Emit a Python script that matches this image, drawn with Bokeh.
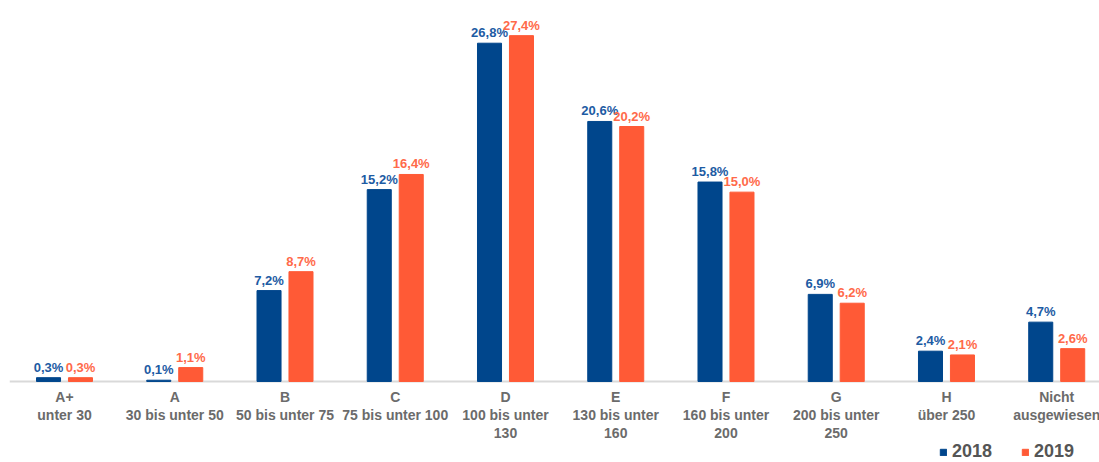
from bokeh.plotting import figure
from bokeh.models import ColumnDataSource, Range1d, Legend, LegendItem, Span
from bokeh.core.properties import value
from bokeh.embed import file_html
from bokeh.resources import INLINE

categories = ["A+\nunter 30", "A\n30 bis unter 50", "B\n50 bis unter 75", "C\n75 bis unter 100",
              "D\n100 bis unter\n130", "E\n130 bis unter\n160", "F\n160 bis unter\n200",
              "G\n200 bis unter\n250", "H\nüber 250", "Nicht\nausgewiesen"]
values_2018 = [0.3, 0.1, 7.2, 15.2, 26.8, 20.6, 15.8, 6.9, 2.4, 4.7]
values_2019 = [0.3, 1.1, 8.7, 16.4, 27.4, 20.2, 15.0, 6.2, 2.1, 2.6]
series = ["2018", "2019"]

BLUE = "#00468c"
ORANGE = "#ff5a36"
BLUE_TXT = "#1d5ba3"
ORANGE_TXT = "#ff6a4a"

idx = list(range(len(categories)))
off = 0.145
w = 0.218

def fmt(v):
    return f"{v:.1f}".replace(".", ",") + "%"

src18 = ColumnDataSource(dict(x=[i - off for i in idx], top=values_2018,
                              lab=[fmt(v) for v in values_2018]))
src19 = ColumnDataSource(dict(x=[i + off for i in idx], top=values_2019,
                              lab=[fmt(v) for v in values_2019]))
srccat = ColumnDataSource(dict(x=idx, y=[0] * len(idx), lab=categories))

p = figure(frame_width=1090, frame_height=454, output_backend="svg", toolbar_location=None,
           x_range=Range1d(-0.499, 9.388), y_range=Range1d(-6.42, 29.55),
           min_border_left=9, min_border_right=0, min_border_top=8, min_border_bottom=0)

r18 = p.vbar(x="x", top="top", bottom=0, width=w, source=src18, color=BLUE)
r19 = p.vbar(x="x", top="top", bottom=0, width=w, source=src19, color=ORANGE)

p.add_layout(Span(location=0, dimension="width", line_color="#d9d9d9", line_width=2,
                  level="underlay"))

p.text(x="x", y="top", text="lab", source=src18, text_align="center", text_baseline="bottom",
       y_offset=-3, text_color=BLUE_TXT, text_font_size="13px", text_font_style="bold",
       text_font=value("Liberation Sans"))
p.text(x="x", y="top", text="lab", source=src19, text_align="center", text_baseline="bottom",
       y_offset=-3, text_color=ORANGE_TXT, text_font_size="13px", text_font_style="bold",
       text_font=value("Liberation Sans"))

p.text(x="x", y="y", text="lab", source=srccat, text_align="center", text_baseline="top",
       y_offset=8, text_color="#6b6b6b", text_font_size="14px", text_font_style="bold",
       text_font=value("Liberation Sans"), text_line_height=1.12)

p.xaxis.visible = False
p.yaxis.visible = False
p.xgrid.visible = False
p.ygrid.visible = False
p.outline_line_color = None

legend = Legend(items=[LegendItem(label=series[0], renderers=[r18]),
                       LegendItem(label=series[1], renderers=[r19])],
                orientation="horizontal", location=(930, 0),
                label_text_font="Liberation Sans", label_text_font_size="18px",
                label_text_font_style="bold", label_text_color="#555555",
                glyph_width=8, glyph_height=8, label_height=14, spacing=29,
                padding=0, margin=0,
                border_line_color=None, background_fill_alpha=0, label_standoff=5)
p.add_layout(legend)

open("out.html", "w").write(file_html(p, INLINE))
